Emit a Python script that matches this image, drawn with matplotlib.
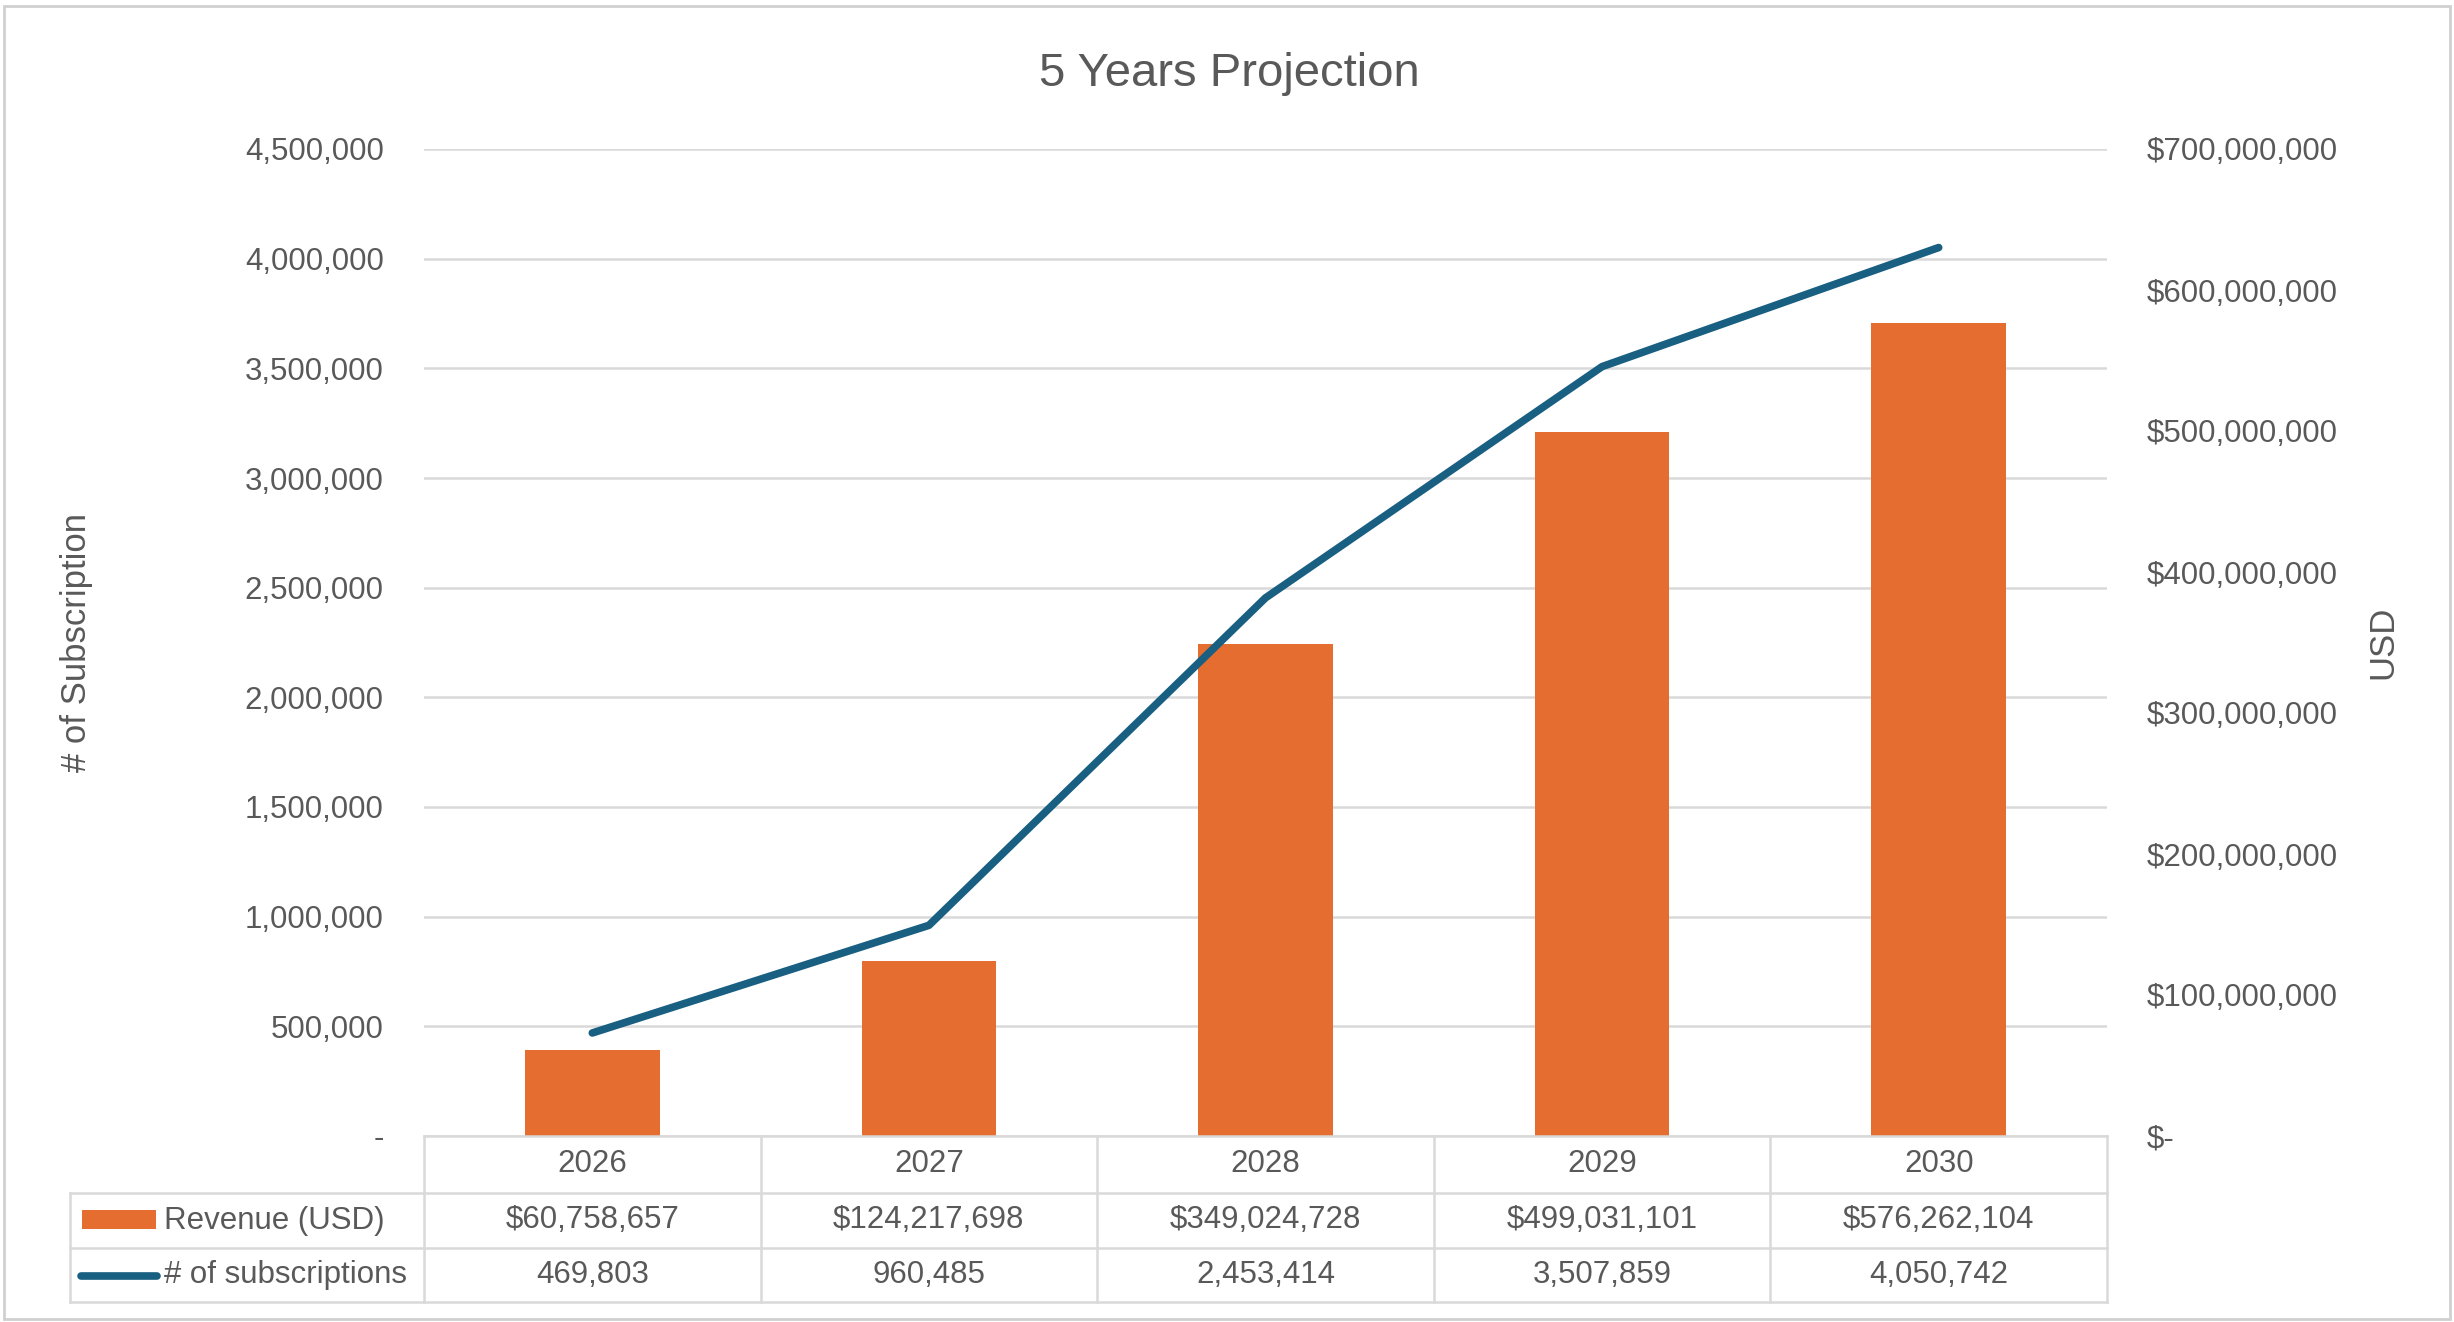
import matplotlib
matplotlib.use("Agg")
import matplotlib.pyplot as plt
from matplotlib.lines import Line2D
from matplotlib.patches import Rectangle
from matplotlib.transforms import blended_transform_factory
from matplotlib.ticker import FuncFormatter, MultipleLocator

# ---------------- data ----------------
years = ["2026", "2027", "2028", "2029", "2030"]
revenue = [60758657, 124217698, 349024728, 499031101, 576262104]
subscriptions = [469803, 960485, 2453414, 3507859, 4050742]
series_names = ["Revenue (USD)", "# of subscriptions"]
title = "5 Years Projection"
left_label = "# of Subscription"
right_label = "USD"

# ---------------- style ----------------
W, H = 2454, 1322
BAR_C = "#E56D2F"
LINE_C = "#185F82"
TXT = "#595959"
GRID = "#D9D9D9"
FONT = ["Liberation Sans", "DejaVu Sans"]
plt.rcParams["font.family"] = FONT

fig = plt.figure(figsize=(W / 100, H / 100), dpi=100)
fig.patch.set_facecolor("white")

def fy(p):
    return 1 - p / H

ax_l, ax_r, ax_t, ax_b = 424, 2107, 149, 1136
ax = fig.add_axes([ax_l / W, fy(ax_b), (ax_r - ax_l) / W, (ax_b - ax_t) / H])
ax_bar = ax.twinx()
ax_line = ax.twinx()

x = list(range(len(years)))
for a in (ax, ax_bar, ax_line):
    a.set_xlim(-0.5, len(years) - 0.5)
    for s in a.spines.values():
        s.set_visible(False)
    a.set_xticks([])
    a.patch.set_visible(False)

# left axis (subscriptions) with gridlines
ax.set_ylim(0, 4500000)
ax.yaxis.set_major_locator(MultipleLocator(500000))
ax.yaxis.set_major_formatter(FuncFormatter(lambda v, p: "-" if v == 0 else f"{v:,.0f}"))
ax.tick_params(axis="y", length=0, pad=29, labelsize=22.5, labelcolor=TXT)
ax.grid(axis="y", color=GRID, linewidth=1.8)
ax.set_axisbelow(True)
ax.set_ylabel(left_label, fontsize=25, color=TXT)
ax.yaxis.set_label_coords((93 - ax_l) / (ax_r - ax_l), 0.5)

# right axis (revenue) with bars
ax_bar.set_ylim(0, 700000000)
ax_bar.yaxis.set_major_locator(MultipleLocator(100000000))
ax_bar.yaxis.set_major_formatter(FuncFormatter(lambda v, p: "$-" if v == 0 else f"${v:,.0f}"))
ax_bar.tick_params(axis="y", length=0, pad=28.5, labelsize=22.5, labelcolor=TXT)
ax_bar.bar(x, revenue, width=0.4, color=BAR_C, zorder=2)
ax_bar.set_ylabel(right_label, fontsize=25, color=TXT, rotation=90)
ax_bar.yaxis.set_label_coords((2366 - ax_l) / (ax_r - ax_l), 0.5)

# line axis on top, same scale as left
ax_line.set_ylim(ax.get_ylim())
ax_line.set_yticks([])
ax_line.plot(x, subscriptions, color=LINE_C, linewidth=5.5, solid_capstyle="round",
             solid_joinstyle="round", zorder=3)

# title
fig.text(1229 / W, fy(74), title, ha="center", va="center", fontsize=34, color=TXT)

# ---------------- data table ----------------
tr_d = blended_transform_factory(ax.transData, fig.transFigure)
tr_a = blended_transform_factory(ax.transAxes, fig.transFigure)

def ax_x(p):
    return (p - ax_l) / (ax_r - ax_l)

row_y = [1136, 1193, 1248, 1302]
lc = dict(color=GRID, linewidth=1.8)
# horizontal lines
fig.add_artist(Line2D([0, 1], [fy(row_y[0])] * 2, transform=tr_a, **lc))
for yy in row_y[1:]:
    fig.add_artist(Line2D([ax_x(70), 1], [fy(yy)] * 2, transform=tr_a, **lc))
# vertical lines at category boundaries
for i in range(len(years) + 1):
    fig.add_artist(Line2D([i - 0.5] * 2, [fy(row_y[0]), fy(row_y[3])], transform=tr_d, **lc))
fig.add_artist(Line2D([ax_x(70)] * 2, [fy(row_y[1]), fy(row_y[3])], transform=tr_a, **lc))

centers = [(row_y[k] + row_y[k + 1]) / 2 for k in range(3)]
for i, yr in enumerate(years):
    fig.text(i, fy(centers[0]), yr, transform=tr_d, ha="center", va="center",
             fontsize=22.5, color=TXT)
    fig.text(i, fy(centers[1]), f"${revenue[i]:,.0f}", transform=tr_d, ha="center",
             va="center", fontsize=22.5, color=TXT)
    fig.text(i, fy(centers[2]), f"{subscriptions[i]:,.0f}", transform=tr_d, ha="center",
             va="center", fontsize=22.5, color=TXT)

# legend keys
fig.add_artist(Rectangle((ax_x(82), fy(1229)), ax_x(156) - ax_x(82), (1229 - 1210) / H,
                         transform=tr_a, facecolor=BAR_C, edgecolor="none"))
fig.text(ax_x(164), fy(centers[1]), series_names[0], transform=tr_a, ha="left", va="center",
         fontsize=22.5, color=TXT)
fig.add_artist(Line2D([ax_x(81), ax_x(157)], [fy(1276)] * 2, transform=tr_a, color=LINE_C,
                      linewidth=5.5, solid_capstyle="round"))
fig.text(ax_x(164), fy(centers[2]), series_names[1], transform=tr_a, ha="left", va="center",
         fontsize=22.5, color=TXT)

# chart border
fig.add_artist(Rectangle((4 / W, 3 / H), 2446 / W, 1313 / H, transform=fig.transFigure,
                         facecolor="none", edgecolor="#D0D0D0", linewidth=2))

fig.savefig("out.png", dpi=100, facecolor="white")
